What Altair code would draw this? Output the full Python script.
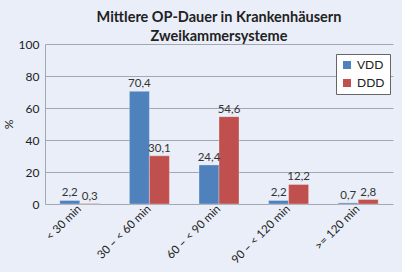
import altair as alt
import pandas as pd

categories = ["< 30 min", "30 – < 60 min", "60 – < 90 min", "90 – < 120 min", ">= 120 min"]
series = ["VDD", "DDD"]
vdd = [2.2, 70.4, 24.4, 2.2, 0.7]
ddd = [0.3, 30.1, 54.6, 12.2, 2.8]
colors = ["#4f81bd", "#c0504d"]

rows = []
for c, v, d in zip(categories, vdd, ddd):
    rows.append({"cat": c, "series": "VDD", "value": v, "label": f"{v:.1f}".replace(".", ",")})
    rows.append({"cat": c, "series": "DDD", "value": d, "label": f"{d:.1f}".replace(".", ",")})
df = pd.DataFrame(rows)

FONT = "Lato"
GRID = "#a3a8b0"

x = alt.X("cat:N", sort=categories, title=None,
          scale=alt.Scale(paddingInner=0.425, paddingOuter=0.2125),
          axis=alt.Axis(labelAngle=-45, labelAlign="right", labelBaseline="middle",
                        labelPadding=3, ticks=False, domain=False,
                        labelFont=FONT, labelFontSize=11.5, labelColor="#222222"))
xo = alt.XOffset("series:N", sort=series)
y = alt.Y("value:Q", title="%",
          scale=alt.Scale(domain=[0, 100]),
          axis=alt.Axis(values=[0, 20, 40, 60, 80, 100], ticks=False, domain=True,
                        domainColor=GRID, gridColor=GRID, grid=True,
                        labelFont=FONT, labelFontSize=12, labelColor="#222222",
                        labelPadding=6, titleFont=FONT, titleFontSize=12,
                        titleFontWeight="normal", titleColor="#222222",
                        titlePadding=3))

bars = alt.Chart(df).mark_bar(stroke="#ffffff", strokeWidth=0.6, strokeOpacity=0.5).encode(
    x=x, xOffset=xo, y=y,
    color=alt.Color("series:N", sort=series,
                    scale=alt.Scale(domain=series, range=colors),
                    legend=alt.Legend(title=None, orient="none", legendX=291, legendY=10,
                                      fillColor="#ffffff", strokeColor="#666666",
                                      padding=5, symbolType="square", symbolSize=64,
                                      symbolStrokeWidth=0, rowPadding=6,
                                      labelFont=FONT, labelFontSize=12,
                                      labelColor="#222222", labelOffset=4)),
)

texts = alt.Chart(df).mark_text(baseline="alphabetic", dy=-4, font=FONT,
                                fontSize=11.5, color="#333333").encode(
    x=x, xOffset=xo, y=y, text="label:N"
)

chart = alt.layer(bars, texts).properties(
    width=348, height=160,
    title=alt.TitleParams(["Mittlere OP-Dauer in Krankenhäusern", "Zweikammersysteme"],
                          font=FONT, fontSize=14.5, fontWeight="bold", color="#222222",
                          anchor="middle", lineHeight=19, offset=4, dy=10),
    autosize=alt.AutoSizeParams(type="none"),
    padding={"left": 45, "top": 44, "right": 9, "bottom": 68},
    background="#e9eef8",
).configure_view(stroke=None)

chart.save("out.html", embed_options={"renderer": "svg", "actions": False})
